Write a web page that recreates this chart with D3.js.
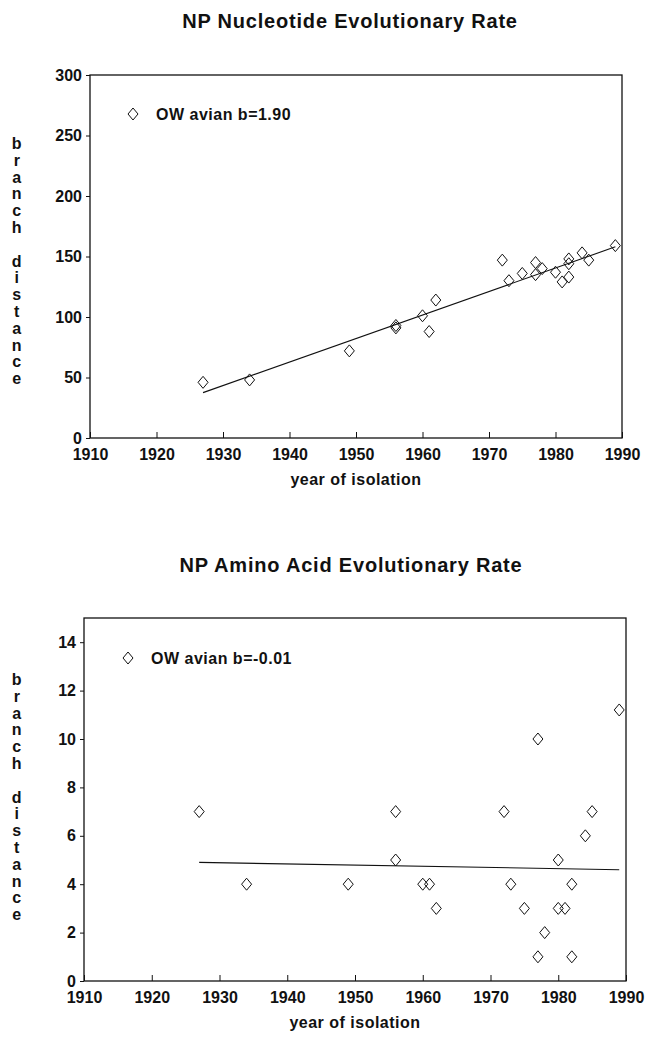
<!DOCTYPE html>
<html>
<head>
  <meta charset="UTF-8">
  <title>NP Evolutionary Rate</title>
  <script src="https://d3js.org/d3.v7.min.js"></script>
  <style>
    body { margin: 0; background: #fff; }
    svg { display: block; }
    text { font-family: "Liberation Sans", Arial, sans-serif; fill: #111; }
    .title { font-size: 20px; font-weight: bold; letter-spacing: 0.8px; }
    .tick text { font-size: 16px; font-weight: bold; }
    .axis-label { font-size: 16px; font-weight: bold; letter-spacing: 0.5px; }
    .legend { font-size: 16px; font-weight: bold; letter-spacing: 0.5px; }
    .frame { fill: none; stroke: #111; stroke-width: 1.3px; }
    .domain { display: none; }
    .tick line { stroke: #111; stroke-width: 1px; }
    .point { fill: none; stroke: #111; stroke-width: 1px; }
    .fit { stroke: #111; stroke-width: 1.1px; fill: none; }
  </style>
</head>
<body>
<svg width="657" height="1038"></svg>
<script>
// nucleotide chart
const ntYears  = [1927, 1934, 1949, 1956, 1956, 1960, 1961, 1962, 1972, 1973, 1975, 1977, 1977, 1978, 1980, 1981, 1982, 1982, 1982, 1984, 1985, 1989];
const ntValues = [46, 48, 72, 91, 93, 101, 88, 114, 147, 130, 136, 145, 135, 140, 137, 129, 148, 144, 133, 153, 147, 159];
const ntFitYears = [1927, 1989];
const ntFitValues = [37.5, 158];
const ntYTicks = [0, 50, 100, 150, 200, 250, 300];

// amino acid chart
const aaYears  = [1927, 1934, 1949, 1956, 1956, 1960, 1961, 1962, 1972, 1973, 1975, 1977, 1977, 1978, 1980, 1980, 1981, 1982, 1982, 1984, 1985, 1989];
const aaValues = [7, 4, 4, 7, 5, 4, 4, 3, 7, 4, 3, 10, 1, 2, 5, 3, 3, 4, 1, 6, 7, 11.2];
const aaFitYears = [1927, 1989];
const aaFitValues = [4.9, 4.6];
const aaYTicks = [0, 2, 4, 6, 8, 10, 12, 14];

const xTicks = [1910, 1920, 1930, 1940, 1950, 1960, 1970, 1980, 1990];
const yLabel = ["b","r","a","n","c","h","","d","i","s","t","a","n","c","e"];

const svg = d3.select('svg');

function drawChart(cfg) {
  const x = d3.scaleLinear().domain([1910, 1990]).range([cfg.left, cfg.right]);
  const y = d3.scaleLinear().domain(cfg.yDomain).range([cfg.bottom, cfg.top]);
  const g = svg.append('g');

  g.append('text')
    .attr('class', 'title')
    .attr('x', cfg.titleX)
    .attr('y', cfg.titleY)
    .attr('text-anchor', 'middle')
    .text(cfg.title);

  g.append('rect')
    .attr('class', 'frame')
    .attr('x', cfg.left)
    .attr('y', cfg.top)
    .attr('width', cfg.right - cfg.left)
    .attr('height', cfg.bottom - cfg.top);

  // x ticks point into the plot
  g.append('g')
    .attr('transform', `translate(0,${cfg.bottom})`)
    .call(d3.axisBottom(x).tickValues(xTicks).tickFormat(d3.format('d'))
      .tickSizeInner(-6).tickSizeOuter(0).tickPadding(11));

  g.append('g')
    .attr('transform', `translate(${cfg.left},0)`)
    .call(d3.axisLeft(y).tickValues(cfg.yTicks).tickSizeInner(4).tickSizeOuter(0).tickPadding(4));

  g.append('text')
    .attr('class', 'axis-label')
    .attr('x', (cfg.left + cfg.right) / 2)
    .attr('y', cfg.bottom + 47)
    .attr('text-anchor', 'middle')
    .text('year of isolation');

  // stacked vertical label
  g.append('g').selectAll('text')
    .data(yLabel)
    .enter().append('text')
    .attr('class', 'axis-label')
    .attr('x', 17)
    .attr('y', (d, i) => cfg.labelTop + i * 16.8)
    .attr('text-anchor', 'middle')
    .text(d => d);

  const line = d3.line().x(d => x(d[0])).y(d => y(d[1]));
  g.append('path')
    .attr('class', 'fit')
    .attr('d', line(d3.zip(cfg.fitX, cfg.fitY)));

  const diamond = 'M0,-6L5,0L0,6L-5,0Z';
  g.append('g').selectAll('path')
    .data(d3.zip(cfg.xs, cfg.ys))
    .enter().append('path')
    .attr('class', 'point')
    .attr('transform', d => `translate(${x(d[0])},${y(d[1])})`)
    .attr('d', diamond);

  // legend
  g.append('path')
    .attr('class', 'point')
    .attr('transform', `translate(${cfg.legendX},${cfg.legendY})`)
    .attr('d', diamond);
  g.append('text')
    .attr('class', 'legend')
    .attr('x', cfg.legendX + 23)
    .attr('y', cfg.legendY + 6)
    .text(cfg.legend);
}

drawChart({
  title: 'NP Nucleotide Evolutionary Rate', titleX: 350, titleY: 28,
  left: 90, right: 622, top: 75, bottom: 438,
  yDomain: [0, 300], yTicks: ntYTicks,
  xs: ntYears, ys: ntValues, fitX: ntFitYears, fitY: ntFitValues,
  labelTop: 149, legendX: 133, legendY: 114, legend: 'OW avian b=1.90'
});

drawChart({
  title: 'NP Amino Acid Evolutionary Rate', titleX: 351, titleY: 572,
  left: 84, right: 626, top: 618, bottom: 981,
  yDomain: [0, 15], yTicks: aaYTicks,
  xs: aaYears, ys: aaValues, fitX: aaFitYears, fitY: aaFitValues,
  labelTop: 685, legendX: 128, legendY: 658, legend: 'OW avian b=-0.01'
});
</script>
</body>
</html>
